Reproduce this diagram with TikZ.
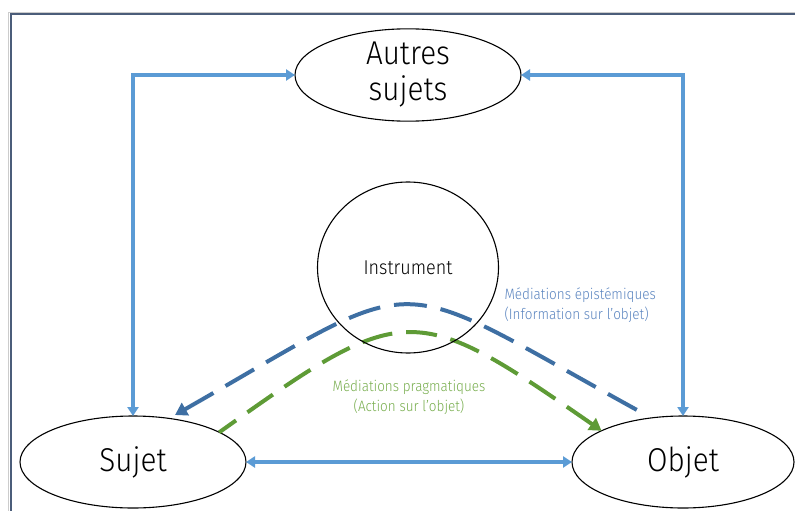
\documentclass[tikz,border=0pt]{standalone}
\usepackage{fontspec}
\setmainfont{Fira Sans}[UprightFont={* Light},FakeStretch=0.9]
\usetikzlibrary{arrows.meta,shapes.geometric}
\definecolor{framec}{HTML}{4B5D7A}
\definecolor{lblue}{HTML}{5B9BD5}
\definecolor{dblue}{HTML}{3E6FA3}
\definecolor{dgreen}{HTML}{5E9B36}
\definecolor{tblue}{HTML}{5B85C0}
\definecolor{tgreen}{HTML}{78AE4E}
\begin{document}
\begin{tikzpicture}[x=1pt,y=-1pt,
  oval/.style={draw=black,line width=1.1pt,ellipse,inner sep=0pt,outer sep=0pt},
  bigtext/.style={font=\fontsize{33}{36}\selectfont},
  link/.style={draw=lblue,line width=3.3pt,{Triangle[length=9pt,width=11pt]}-{Triangle[length=9pt,width=11pt]}},
  med/.style={line width=4pt},
  medtip/.style={{Triangle[length=12pt,width=14pt]}-},
  lab/.style={font=\fontsize{15}{19.5}\selectfont}
]
\clip (0,0) rectangle (795,511);
\fill[white] (0,0) rectangle (795,511);
\draw[black!20,line width=1pt] (8.5,12.5) rectangle (820,530);
\draw[framec,line width=2pt] (10.5,14.5) rectangle (820,530);

\coordinate (bstart) at (637,410);
\coordinate (bend) at (175,415);

\node[oval,minimum width=226pt,minimum height=92pt,align=center,bigtext] (autres) at (408,75) {Autres\\sujets};
\node[oval,minimum width=226pt,minimum height=92pt,bigtext] (sujet) at (133,462) {Sujet};
\node[oval,minimum width=222pt,minimum height=92pt,bigtext] (objet) at (683,462) {Objet};

\draw[med,dblue,medtip,dash pattern=on 33pt off 14pt] (bend) .. controls (431,269) and (381,269) .. (bstart);
\draw[med,dgreen,medtip,dash pattern=on 31pt off 14pt] (objet.159) .. controls (413,300) and (405,300) .. (sujet.19);

\node[oval,minimum width=181pt,minimum height=171pt,font=\fontsize{20}{22}\selectfont] (instr) at (408,267.5) {Instrument};

\draw[link] (sujet.north) |- (autres.west);
\draw[link] (objet.north) |- (autres.east);
\draw[link] (sujet.east) -- (objet.west);

\node[lab,text=tblue,align=left,anchor=west] (lepi) at (501,305) {Médiations épistémiques\\(Information sur l’objet)};
\node[lab,text=tgreen,align=center] (lprag) at (409,397) {Médiations pragmatiques\\(Action sur l’objet)};
\end{tikzpicture}
\end{document}
